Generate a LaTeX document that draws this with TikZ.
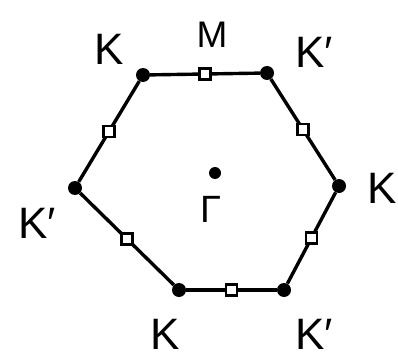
\documentclass[tikz,border=0pt]{standalone}
\usepackage{fontspec}
\setmainfont{Liberation Sans}
\usetikzlibrary{positioning,calc}

\tikzset{
  vtx/.style={circle,fill=black,inner sep=0pt,minimum size=14pt},
  mid/.style={draw,fill=white,line width=2.4pt,inner sep=0pt,minimum size=11pt},
  edge/.style={line width=3.4pt,line join=round},
  lbl/.style={font=\fontsize{44}{44}\selectfont,inner sep=0pt,anchor=base},
}

\begin{document}
\begin{tikzpicture}[x=1pt,y=-1pt]
  \useasboundingbox (0,0) rectangle (398,358);
  % corners of the zone
  \node[vtx] (k1) at (143,75) {};
  \node[vtx] (k2) at (267,73) {};
  \node[vtx] (k3) at (339,186) {};
  \node[vtx] (k4) at (284,290) {};
  \node[vtx] (k5) at (179,290) {};
  \node[vtx] (k6) at (75,188) {};
  % zone centre
  \node[vtx,minimum size=12pt] (g) at (215,173) {};
  % edges, with the M points halfway
  \draw[edge] (k1) -- (k2);
  \draw[edge] (k2) -- (k3);
  \draw[edge] (k3) -- (k4);
  \draw[edge] (k4) -- (k5);
  \draw[edge] (k5) -- (k6);
  \draw[edge] (k6) -- (k1);
  \node[mid] (m1) at ($(k1)!0.5!(k2)$) {};
  \node[mid] (m2) at ($(k2)!0.5!(k3)$) {};
  \node[mid] (m3) at ($(k3)!0.5!(k4)$) {};
  \node[mid] (m4) at ($(k4)!0.5!(k5)$) {};
  \node[mid] (m5) at ($(k5)!0.5!(k6)$) {};
  \node[mid] (m6) at ($(k6)!0.5!(k1)$) {};
  % labels
  \node[lbl] (lk1) at (109,65) {K};
  \node[lbl,font=\fontsize{37}{37}\selectfont] (lm) at (212,48) {M};
  \node[lbl,anchor=base west] (lk2) at (295,68) {K′};
  \node[lbl,anchor=base east] (lk3) at (397,203) {K};
  \node[lbl,anchor=base west] (lk6) at (18,238) {K′};
  \node[lbl] (lk5) at (165,349) {K};
  \node[lbl,anchor=base west] (lk4) at (295,349) {K′};
  \node[lbl,font=\fontsize{38}{38}\selectfont] (lg) at (211,222) {Γ};
\end{tikzpicture}
\end{document}
